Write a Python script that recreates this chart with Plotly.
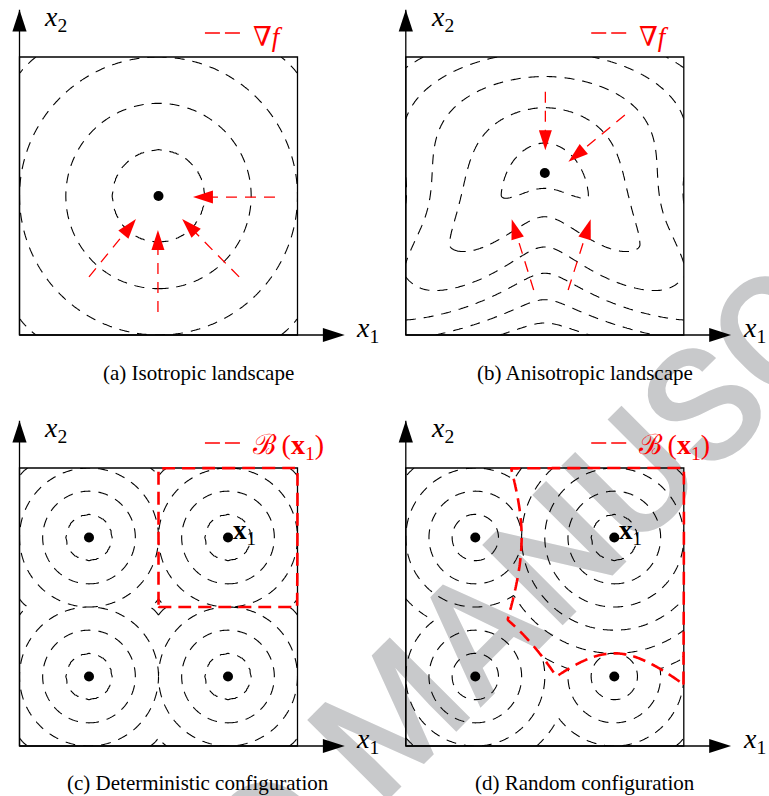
import numpy as np
import plotly.graph_objects as go

W, H = 769, 796

# ---------------- data ----------------
# (a) isotropic landscape: one minimum with circular level sets
iso_min_x = [0.5]
iso_min_y = [0.5]
iso_levels = [1/6, 2/6, 3/6, 4/6]
iso_tail_x = [0.919, 0.498, 0.250, 0.790]
iso_tail_y = [0.496, 0.083, 0.209, 0.209]
iso_head_x = [0.624, 0.498, 0.419, 0.585]
iso_head_y = [0.496, 0.378, 0.417, 0.417]

# (b) anisotropic landscape: minimum sitting in a bent valley
ani_min_x = [0.5]
ani_min_y = [0.583]
ani_levels = [1.0, 4.8, 10.5, 16.5, 23.4, 30.1]
ani_tail_x = [0.502, 0.788, 0.460, 0.584]
ani_tail_y = [0.875, 0.791, 0.162, 0.162]
ani_head_x = [0.502, 0.585, 0.381, 0.665]
ani_head_y = [0.665, 0.623, 0.416, 0.416]
# valley shape / steepness parameters
ani_across = 41.0        # weight along the valley
ani_across_decay = 0.3   # how fast that weight fades below the valley
ani_up = 87.3            # wall above the valley
ani_down = 75.4          # wall below the valley
ani_down_pow = 1.49
ani_bend = 0.95          # curvature of the valley
ani_bend_round = 0.07
ani_bend_center = -0.2
ani_bend_width_up = 0.30
ani_bend_width_down = 0.42

# (c)/(d) four attractors; index 1 (top right) is x1
att_x = [0.25, 0.75, 0.25, 0.75]
att_y = [0.75, 0.75, 0.25, 0.25]
det_depth = [0.0, 0.0, 0.0, 0.0]
rnd_depth = [2/12, 0.0, 3/12, 4/12]
det_levels = [1/12, 2/12, 3/12, 4/12]
rnd_levels = [1/12, 2/12, 3/12, 4/12, 5/12, 6/12, 7/12, 8/12]
focus = 1

captions = ["(a) Isotropic landscape", "(b) Anisotropic landscape",
            "(c) Deterministic configuration", "(d) Random configuration"]

# ---------------- geometry ----------------
# pixel box of each unit square: left, right, top, bottom
boxes = [(19.5, 297.5, 57.0, 335.0), (405.8, 683.8, 57.0, 335.0),
         (19.5, 297.5, 468.0, 746.0), (405.8, 683.8, 468.0, 746.0)]
R0, R1 = -0.03, 1.2
AX_TIP = 1.17

BLACK_DASH = "10px,8px"
RED_DASH = "11px,8px"
BASIN_DASH = "13px,7px"
RED = "#ff0000"
SERIF = "Liberation Serif, DejaVu Serif, serif"

fig = go.Figure()


def axes_of(i):
    return ("x" if i == 0 else f"x{i+1}", "y" if i == 0 else f"y{i+1}")


def to_paper(i, xd, yd):
    sx0, sx1, sy0, sy1 = boxes[i]
    u = sx1 - sx0
    return (sx0 + xd * u) / W, 1 - (sy1 - yd * u) / H


def level_index(F, levels):
    lv = np.asarray(levels, float)
    xp = np.concatenate([[min(F.min(), lv[0]) - 1.0], lv, [max(F.max(), lv[-1]) + 1.0]])
    fp = np.arange(len(xp), dtype=float)
    return np.interp(F, xp, fp)


grid = np.linspace(0, 1, 241)
GX, GY = np.meshgrid(grid, grid)


def add_levels(i, F, levels):
    xa, ya = axes_of(i)
    Z = np.round(level_index(F, levels), 4)
    fig.add_trace(go.Contour(
        x=grid, y=grid, z=Z, xaxis=xa, yaxis=ya, autocontour=False,
        contours=dict(start=1, end=len(levels), size=1, coloring="none", showlabels=False),
        line=dict(color="black", width=1.1, dash=BLACK_DASH, smoothing=0),
        showscale=False, hoverinfo="skip"))


def add_arrow(i, x0, y0, x1, y1, color, width, dash, size):
    xa, ya = axes_of(i)
    fig.add_trace(go.Scatter(
        x=[x0, x1], y=[y0, y1], xaxis=xa, yaxis=ya, mode="lines+markers",
        line=dict(color=color, width=width, dash=dash),
        marker=dict(symbol="arrow", size=size, angleref="previous", color=color,
                    line=dict(width=0)),
        hoverinfo="skip", showlegend=False))


def add_minima(i, xs, ys):
    xa, ya = axes_of(i)
    fig.add_trace(go.Scatter(x=xs, y=ys, xaxis=xa, yaxis=ya, mode="markers",
                             marker=dict(size=10, color="black"),
                             hoverinfo="skip", showlegend=False))


def add_sample(i, x0, x1, y, width):
    xa, ya = axes_of(i)
    fig.add_trace(go.Scatter(x=[x0, x1], y=[y, y], xaxis=xa, yaxis=ya, mode="lines",
                             line=dict(color=RED, width=width, dash="15px,5px"),
                             hoverinfo="skip", showlegend=False))


def note(i, xd, yd, text, size, color="black", xanchor="left", yanchor="middle"):
    px, py = to_paper(i, xd, yd)
    fig.add_annotation(x=px, y=py, xref="paper", yref="paper", text=text, showarrow=False,
                       xanchor=xanchor, yanchor=yanchor,
                       font=dict(family=SERIF, size=size, color=color))


# ---------------- (a) isotropic ----------------
F_iso = np.hypot(GX - iso_min_x[0], GY - iso_min_y[0])
add_levels(0, F_iso, iso_levels)
for k in range(len(iso_tail_x)):
    add_arrow(0, iso_tail_x[k], iso_tail_y[k], iso_head_x[k], iso_head_y[k], RED, 1.3, RED_DASH, 21)
add_minima(0, iso_min_x, iso_min_y)

# ---------------- (b) anisotropic ----------------
Xc = GX - ani_min_x[0]
Yc = GY - ani_min_y[0]
s_bend = np.sqrt(Xc ** 2 + ani_bend_round ** 2) - ani_bend_round
bend_w = np.where(Yc > ani_bend_center, ani_bend_width_up, ani_bend_width_down)
k_bend = ani_bend * np.exp(-((Yc - ani_bend_center) / bend_w) ** 2)
v = Yc + k_bend * s_bend           # height above the bent valley floor
across = ani_across * np.where(v >= 0, 1.0, np.exp(-(v / ani_across_decay) ** 2))
F_ani = across * Xc ** 2 + np.where(v >= 0, ani_up * v ** 2,
                                    ani_down * np.abs(v) ** ani_down_pow)
add_levels(1, F_ani, ani_levels)
for k in range(len(ani_tail_x)):
    add_arrow(1, ani_tail_x[k], ani_tail_y[k], ani_head_x[k], ani_head_y[k], RED, 1.3, RED_DASH, 21)
add_minima(1, ani_min_x, ani_min_y)

# ---------------- (c)/(d) multiple attractors ----------------
pad_grid = np.linspace(-0.011, 1.011, 250)
PX, PY = np.meshgrid(pad_grid, pad_grid)
inside = (PX >= 0) & (PX <= 1) & (PY >= 0) & (PY <= 1)


def cone_stack(X, Y, depth):
    return np.stack([np.hypot(X - ax, Y - ay) + dp for ax, ay, dp in zip(att_x, att_y, depth)])


for i, depth, levels in [(2, det_depth, det_levels), (3, rnd_depth, rnd_levels)]:
    xa, ya = axes_of(i)
    add_levels(i, cone_stack(GX, GY, depth).min(axis=0), levels)
    # basin of attraction of x1: where its cone is the lowest one
    D = cone_stack(PX, PY, depth)
    others = np.delete(D, focus, axis=0).min(axis=0)
    G = np.where(inside, D[focus] - others, 1.0)
    fig.add_trace(go.Contour(
        x=pad_grid, y=pad_grid, z=np.round(G, 4), xaxis=xa, yaxis=ya, autocontour=False,
        contours=dict(start=0, end=0.5, size=1, coloring="none", showlabels=False),
        line=dict(color=RED, width=2.6, dash=BASIN_DASH, smoothing=0),
        showscale=False, hoverinfo="skip"))
    add_minima(i, att_x, att_y)
    note(i, att_x[focus] + 0.01, att_y[focus] + 0.02, "<b>x</b><sub>1</sub>", 27)

# ---------------- frames, axes arrows, labels ----------------
shapes = []
for i in range(4):
    xa, ya = axes_of(i)
    shapes.append(dict(type="rect", xref=xa, yref=ya, x0=0, x1=1, y0=0, y1=1,
                       line=dict(color="black", width=1.3), layer="below"))
    add_arrow(i, 0, 0, AX_TIP, 0, "black", 1.3, "solid", 23)
    add_arrow(i, 0, 0, 0, AX_TIP, "black", 1.3, "solid", 23)
    note(i, 0.082, 1.14, "<i>x</i><sub>2</sub>", 28)
    note(i, 1.205, 0.02, "<i>x</i><sub>1</sub>", 28)

# legends
for i in (0, 1):
    add_sample(i, 0.667, 0.793, 1.086, 1.5)
    note(i, 0.833, 1.072, "∇<i>f</i>", 27, color=RED)
for i in (2, 3):
    add_sample(i, 0.667, 0.793, 1.09, 1.5)
    note(i, 0.833, 1.078, "ℬ\u2009(<b>x</b><sub>1</sub>)", 28, color=RED)

# captions
cap_pos = [(198.5, 373), (584.5, 373), (198.0, 783), (585.0, 783)]
for (cx, cy), text in zip(cap_pos, captions):
    fig.add_annotation(x=cx / W, y=1 - cy / H, xref="paper", yref="paper", text=text,
                       showarrow=False, xanchor="center", yanchor="middle",
                       font=dict(family=SERIF, size=21, color="black"))

# manuscript stamp behind everything
stamp_x, stamp_y = 394, 700
shapes.append(dict(type="rect", xref="paper", yref="paper",
                   x0=stamp_x / W - 0.001, x1=stamp_x / W + 0.001,
                   y0=1 - stamp_y / H - 0.001, y1=1 - stamp_y / H + 0.001,
                   line=dict(width=0), fillcolor="rgba(0,0,0,0)", layer="below",
                   label=dict(text="ACCEPTED MANUSCRIPT", textangle=-45,
                              textposition="middle center",
                              font=dict(family="Roboto, Liberation Sans, sans-serif",
                                        size=160, color="#c8c9cb", weight=500))))

layout = dict(width=W, height=H, margin=dict(l=0, r=0, t=0, b=0),
              paper_bgcolor="white", plot_bgcolor="rgba(0,0,0,0)",
              showlegend=False, shapes=shapes)
for i in range(4):
    sx0, sx1, sy0, sy1 = boxes[i]
    u = sx1 - sx0
    n = "" if i == 0 else str(i + 1)
    layout[f"xaxis{n}"] = dict(domain=[(sx0 + R0 * u) / W, (sx0 + R1 * u) / W],
                               range=[R0, R1], visible=False, fixedrange=True,
                               anchor=f"y{n}")
    layout[f"yaxis{n}"] = dict(domain=[1 - (sy1 - R0 * u) / H, 1 - (sy1 - R1 * u) / H],
                               range=[R0, R1], visible=False, fixedrange=True,
                               anchor=f"x{n}")
fig.update_layout(**layout)

fig.write_html("out.html")
